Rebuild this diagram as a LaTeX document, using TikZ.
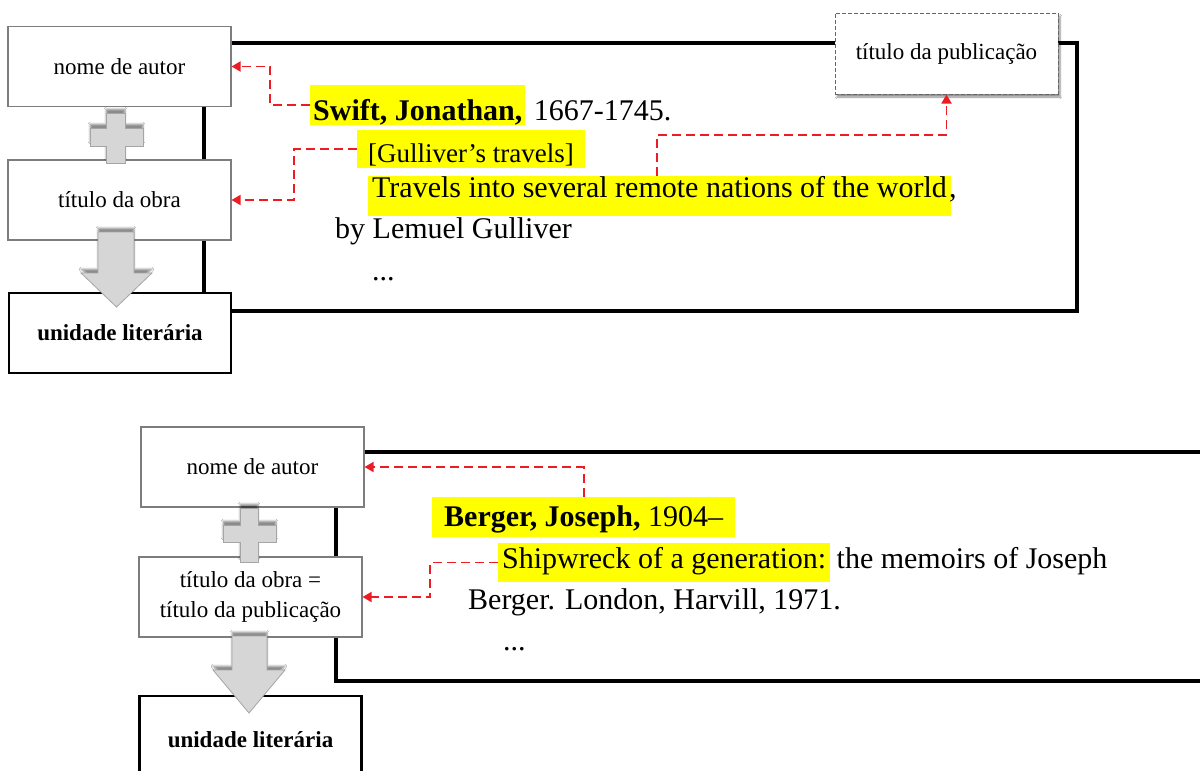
\documentclass[tikz,border=0pt]{standalone}
\usepackage{fontspec}
\setmainfont{Liberation Serif}
\usetikzlibrary{arrows.meta,calc,shadows.blur}

\definecolor{hl}{RGB}{255,255,0}
\definecolor{linkred}{RGB}{237,28,36}
\definecolor{thinedge}{RGB}{125,125,125}
\definecolor{blockfill}{RGB}{214,214,214}
\definecolor{blockedge}{RGB}{165,165,165}

\newcommand\mainsize{\fontsize{30}{35}\selectfont}
\newcommand\boxsize{\fontsize{23}{30}\selectfont}

\begin{document}
\begin{tikzpicture}[x=1pt,y=-1pt,
  plainbox/.style={draw=thinedge, line width=1.1pt, fill=white, minimum width=223pt,
    minimum height=80pt, inner sep=0pt, font=\boxsize, align=center},
  unitbox/.style={draw=black, line width=2.6pt, fill=white, minimum width=222pt,
    minimum height=80pt, inner sep=0pt, font=\boxsize\bfseries},
  pubbox/.style={draw=gray!80!black, line width=1pt, dash pattern=on 4pt off 2pt,
    fill=white, minimum width=223pt, minimum height=81pt, inner sep=0pt, font=\boxsize,
    blur shadow={shadow xshift=2pt, shadow yshift=-3pt, shadow opacity=45, shadow blur steps=6}},
  hilite/.style={fill=hl, anchor=base west, inner ysep=0pt, font=\mainsize},
  plaintext/.style={anchor=base west, inner sep=0pt, font=\mainsize},
  link/.style={draw=linkred, line width=1.8pt, dash pattern=on 9pt off 5pt,
    -{Triangle[length=9pt,width=10pt]}},
  frame/.style={line width=4pt, draw=black},
  block/.style={fill=blockfill, draw=blockedge, line width=0.8pt,
    blur shadow={shadow xshift=0pt, shadow yshift=4pt, shadow opacity=45, shadow blur steps=6}}
]
\fill[white] (0,0) rectangle (1200,771);
\useasboundingbox (0,0) rectangle (1200,771);

% ---------- first record: Swift ----------
\draw[frame] (204,43) rectangle (1077,311);

\node[plainbox] (autor1) at (119.5,66.5) {nome de autor};
\node[plainbox] (obra1)  at (119.5,200)  {título da obra};
\node[unitbox]  (unid1)  at (120,333)    {unidade literária};
\node[pubbox]   (pub)    at (946.5,53.5) {título da publicação};

\node[hilite, inner xsep=3pt, text height=35pt, text depth=5pt, font=\mainsize\bfseries]
  (swift) at (310,120) {Swift, Jonathan,};
\node[plaintext] (dates) at ([xshift=8pt]swift.base east) {1667-1745.};
\node[hilite, inner xsep=11pt, text height=32pt, text depth=6pt, font=\fontsize{27}{31}\selectfont]
  (gull) at (357,162) {[Gulliver’s travels]};
\node[hilite, inner xsep=4pt, text height=21pt, text depth=19pt]
  (travels) at (368,197) {Travels into several remote nations of the world};
\node[plaintext] (comma) at ([xshift=-2pt]travels.base east) {,};
\node[plaintext] (by) at (335,238) {by Lemuel Gulliver};
\node[plaintext] (dots1) at (372,280) {...};

\draw[link] (swift.west) -- ++(-40,0) |- (autor1.east);
\draw[link] (gull.west) -- ++(-63,0) |- (obra1.east);
\draw[link] ([xshift=289pt]travels.north west) -- ++(0,-41) -| (pub.south);

\path[block] (106,113) -- (125,113) -- (125,128) -- (143,128) -- (143,146) -- (125,146)
  -- (125,163) -- (106,163) -- (106,146) -- (90,146) -- (90,128) -- (106,128) -- cycle;
\path[block] (98,232) -- (134,232) -- (134,273) -- (152,273) -- (116.5,307) -- (81,273)
  -- (98,273) -- cycle;

% ---------- second record: Berger ----------
\draw[frame] (1215,452) -- (336,452) -- (336,681) -- (1215,681);

\node[plainbox] (autor2) at (252.5,467) {nome de autor};
\node[plainbox] (obra2)  at (250.5,597) {título da obra =\\título da publicação};
\node[unitbox, minimum height=88pt] (unid2) at (250.5,740) {unidade literária};

\node[hilite, inner xsep=12pt, text height=29pt, text depth=11pt]
  (berger) at (432,526) {\textbf{Berger, Joseph,} 1904–};
\node[hilite, inner xsep=4pt, text height=25pt, text depth=14pt]
  (ship) at (498,568) {Shipwreck of a generation:};
\node[plaintext] (memoirs) at ([xshift=6pt]ship.base east) {the memoirs of Joseph};
\node[plaintext] (london) at (468,609) {Berger. London, Harvill, 1971.};
\node[plaintext] (dots2) at (503,650) {...};

\draw[link] (berger.north) |- (autor2.east);
\draw[link] (ship.west) -- ++(-68,0) |- (obra2.east);

\path[block] (240,508) -- (258,508) -- (258,525) -- (276,525) -- (276,542) -- (258,542)
  -- (258,562) -- (240,562) -- (240,542) -- (223,542) -- (223,525) -- (240,525) -- cycle;
\path[block] (232,636) -- (267,636) -- (267,670) -- (285,670) -- (249,713) -- (213,670)
  -- (232,670) -- cycle;
\end{tikzpicture}
\end{document}
